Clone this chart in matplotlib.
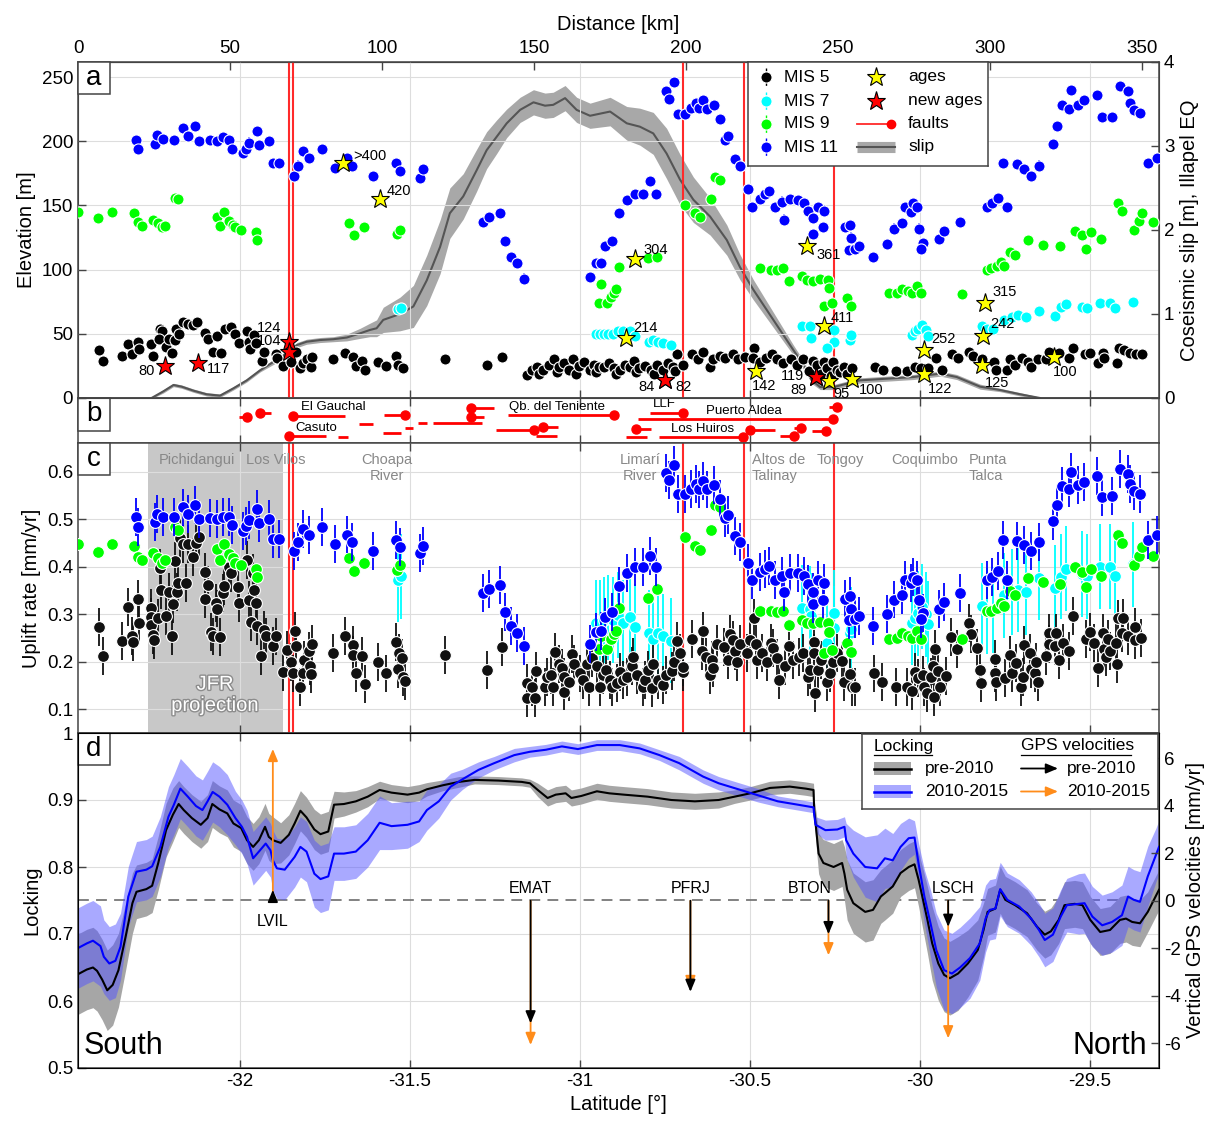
import numpy as np
import matplotlib
matplotlib.use("Agg")
import matplotlib.pyplot as plt
import matplotlib.patheffects as pe
from matplotlib.patches import Rectangle

plt.rcParams["font.family"] = ["Liberation Sans", "DejaVu Sans"]
plt.rcParams["axes.unicode_minus"] = False

# along-coast distance (km) <-> latitude
LAT_SOUTH, LAT_NORTH = -32.476, -29.297
KM_PER_DEG = 111.84


def km_to_lat(d):
    return LAT_SOUTH + np.asarray(d, dtype=float) / KM_PER_DEG


def lat_to_km(lat):
    return (np.asarray(lat, dtype=float) - LAT_SOUTH) * KM_PER_DEG


# ---------------------------------------------------------------- data
# marine terraces: (distance km, elevation m, uplift rate mm/yr)
mis11 = [
    (19.1, 201, 0.504), (19.8, 194, 0.484), (25.3, 198, 0.495), (26.1, 205, 0.512),
    (28.1, 202, 0.505), (31.6, 201, 0.504), (34.5, 210, 0.525), (36.1, 204, 0.511),
    (38.4, 212, 0.531), (39.8, 200, 0.500), (43.5, 201, 0.502), (45.6, 200, 0.500),
    (47.6, 203, 0.505), (49.6, 201, 0.504), (50.7, 194, 0.488), (54.2, 191, 0.476),
    (55.3, 194, 0.486), (56.3, 199, 0.498), (59.0, 208, 0.521), (59.4, 197, 0.493),
    (62.7, 200, 0.500), (64.0, 183, 0.458), (66.0, 183, 0.458), (71.0, 173, 0.434),
    (72.3, 181, 0.453), (74.1, 192, 0.479), (76.0, 187, 0.467), (80.2, 194, 0.484),
    (84.5, 179, 0.448), (88.6, 187, 0.468), (90.0, 181, 0.453), (97.1, 173, 0.434),
    (104.5, 183, 0.456), (105.9, 177, 0.442), (112.5, 171, 0.430), (113.4, 178, 0.444),
    (133.3, 137, 0.344), (135.3, 141, 0.353), (138.8, 144, 0.361), (140.6, 122, 0.305),
    (142.3, 110, 0.275), (144.3, 105, 0.261), (146.6, 93, 0.232), (168.4, 94, 0.237),
    (170.4, 105, 0.262), (172.1, 105, 0.265), (173.3, 118, 0.295), (175.6, 122, 0.305),
    (177.9, 144, 0.360), (180.5, 154, 0.386), (183.1, 159, 0.399), (185.9, 159, 0.399),
    (188.0, 169, 0.423), (190.1, 159, 0.399), (193.3, 239, 0.597), (194.5, 233, 0.583),
    (196.0, 246, 0.614), (197.3, 221, 0.554), (199.8, 221, 0.553), (201.5, 226, 0.564),
    (203.3, 230, 0.574), (204.4, 226, 0.563), (205.5, 232, 0.581), (207.0, 225, 0.563),
    (209.2, 228, 0.572), (211.2, 217, 0.542), (212.8, 201, 0.502), (213.9, 204, 0.509),
    (216.1, 186, 0.465), (217.7, 181, 0.453), (220.4, 163, 0.408), (221.7, 149, 0.372),
    (224.3, 155, 0.389), (225.9, 159, 0.396), (227.4, 161, 0.401), (229.1, 149, 0.372),
    (231.6, 153, 0.380), (232.2, 139, 0.346), (234.2, 155, 0.387), (236.9, 154, 0.386),
    (238.8, 152, 0.380), (240.1, 146, 0.363), (241.6, 140, 0.347), (241.9, 128, 0.321),
    (243.5, 149, 0.372), (245.4, 146, 0.365), (245.0, 133, 0.331), (252.3, 133, 0.333),
    (253.9, 135, 0.338), (254.2, 125, 0.312), (253.7, 115, 0.288), (255.6, 116, 0.290),
    (257.0, 118, 0.296), (261.6, 110, 0.276), (266.0, 120, 0.300), (268.5, 132, 0.331),
    (271.1, 136, 0.340), (272.1, 149, 0.373), (273.9, 145, 0.365), (274.6, 152, 0.379),
    (276.1, 149, 0.372), (276.5, 132, 0.331), (277.9, 121, 0.303), (277.4, 116, 0.289),
    (283.1, 124, 0.310), (284.8, 130, 0.325), (290.0, 137, 0.344), (299.1, 149, 0.372),
    (300.5, 152, 0.379), (302.7, 156, 0.392), (305.5, 149, 0.373), (304.1, 183, 0.456),
    (308.9, 182, 0.455), (311.3, 178, 0.446), (313.5, 173, 0.434), (316.2, 181, 0.453),
    (320.8, 198, 0.496), (321.9, 212, 0.530), (323.6, 228, 0.570), (325.8, 225, 0.565),
    (326.5, 240, 0.600), (329.0, 228, 0.572), (330.9, 232, 0.579), (335.1, 236, 0.591),
    (336.9, 219, 0.547), (340.0, 219, 0.549), (342.8, 243, 0.607), (345.2, 239, 0.595),
    (346.1, 230, 0.575), (347.4, 224, 0.560), (349.3, 222, 0.554), (351.8, 183, 0.457),
    (355.0, 187, 0.467),
]

mis9 = [
    (0.0, 145, 0.448), (6.5, 140, 0.431), (11.2, 145, 0.447), (18.5, 144, 0.444),
    (19.7, 137, 0.421), (21.2, 134, 0.414), (24.7, 139, 0.429), (26.2, 136, 0.418),
    (27.7, 133, 0.408), (28.5, 134, 0.415), (31.8, 156, 0.483), (32.8, 155, 0.477),
    (45.6, 141, 0.437), (46.7, 134, 0.414), (48.1, 145, 0.448), (49.7, 138, 0.426),
    (51.1, 135, 0.418), (51.5, 133, 0.408), (53.5, 131, 0.403), (58.4, 129, 0.396),
    (58.8, 123, 0.378), (89.0, 136, 0.418), (90.8, 127, 0.392), (94.1, 133, 0.408),
    (105.0, 128, 0.394), (105.9, 131, 0.403), (171.4, 74, 0.227), (172.1, 89, 0.253),
    (174.1, 74, 0.227), (175.2, 79, 0.247), (176.3, 82, 0.258), (177.0, 85, 0.265),
    (177.9, 102, 0.314), (187.6, 109, 0.335), (190.3, 110, 0.354), (199.5, 150, 0.463),
    (202.8, 144, 0.444), (204.6, 141, 0.435), (208.3, 155, 0.477), (209.6, 172, 0.530),
    (211.0, 170, 0.526), (224.3, 101, 0.307), (227.8, 100, 0.307), (229.8, 100, 0.304),
    (232.0, 101, 0.307), (234.0, 91, 0.277), (238.0, 95, 0.288), (239.9, 92, 0.282),
    (241.9, 91, 0.281), (244.1, 93, 0.284), (246.7, 92, 0.281), (247.0, 86, 0.263),
    (245.2, 72, 0.218), (248.1, 74, 0.225), (252.9, 78, 0.239), (254.2, 72, 0.221),
    (266.6, 82, 0.247), (269.3, 82, 0.249), (271.1, 85, 0.260), (273.1, 83, 0.253),
    (274.3, 82, 0.249), (276.1, 87, 0.265), (277.2, 82, 0.247), (290.7, 81, 0.247),
    (298.9, 100, 0.307), (300.3, 101, 0.307), (302.2, 103, 0.314), (303.6, 106, 0.324),
    (304.6, 103, 0.317), (306.6, 114, 0.349), (308.2, 111, 0.340), (312.4, 123, 0.377),
    (317.5, 119, 0.367), (323.0, 118, 0.363), (328.0, 130, 0.399), (330.2, 127, 0.390),
    (331.4, 116, 0.357), (333.1, 129, 0.396), (336.4, 124, 0.381), (342.2, 152, 0.467),
    (343.3, 146, 0.450), (347.4, 131, 0.404), (349.1, 138, 0.423), (349.8, 144, 0.442),
    (353.7, 137, 0.423),
]

mis7 = [
    (105.4, 69, 0.373), (106.3, 70, 0.380), (170.4, 50, 0.282), (171.7, 50, 0.282),
    (173.0, 50, 0.288), (174.4, 50, 0.293), (176.1, 50, 0.288), (177.7, 52, 0.298),
    (179.2, 52, 0.282), (181.6, 52, 0.295), (183.2, 48, 0.274), (187.9, 44, 0.260),
    (189.2, 45, 0.248), (190.9, 44, 0.260), (192.5, 43, 0.253), (194.9, 41, 0.244),
    (238.0, 56, 0.314), (240.6, 56, 0.312), (241.0, 47, 0.296), (248.5, 53, 0.303),
    (248.5, 44, 0.270), (246.3, 39, 0.239), (254.0, 45, 0.261), (254.2, 49, 0.268),
    (274.2, 49, 0.282), (275.3, 52, 0.291), (276.4, 54, 0.302), (277.5, 57, 0.316),
    (279.0, 53, 0.300), (279.7, 48, 0.280), (297.3, 56, 0.317), (298.9, 54, 0.307),
    (301.1, 54, 0.309), (304.6, 61, 0.340), (307.3, 63, 0.347), (309.3, 65, 0.352),
    (311.8, 63, 0.347), (316.0, 68, 0.377), (321.4, 64, 0.356), (323.2, 71, 0.379),
    (324.8, 73, 0.396), (330.2, 71, 0.385), (332.0, 70, 0.380), (336.0, 74, 0.400),
    (339.5, 74, 0.400), (341.1, 70, 0.380), (346.9, 75, 0.405),
]

# MIS 5 elevations (distance km, elevation m)
mis5_elev = [
    (7.0, 37), (8.1, 29), (14.6, 33), (16.3, 42), (17.9, 34), (19.8, 44), (20.2, 38),
    (24.0, 42), (24.6, 33), (27.0, 54), (27.7, 52), (26.8, 46), (28.8, 40), (29.8, 46),
    (30.8, 35), (31.9, 45), (32.1, 54), (33.3, 50), (34.4, 59), (36.3, 58), (37.7, 57),
    (39.0, 59), (41.7, 51), (42.8, 46), (44.5, 36), (45.8, 48), (47.0, 35), (48.4, 54),
    (50.2, 55), (51.6, 50), (52.9, 43), (55.7, 52), (56.4, 44), (56.6, 38), (58.0, 49),
    (58.5, 43), (60.4, 29), (61.2, 36), (65.1, 34), (65.6, 31), (67.5, 25), (69.9, 28),
    (71.7, 36), (73.0, 23), (74.1, 27), (75.4, 30), (76.6, 24), (76.9, 32), (84.0, 30),
    (87.8, 35), (90.3, 32), (91.4, 25), (93.3, 29), (94.4, 22), (98.8, 28), (101.2, 25),
    (104.6, 33), (105.4, 26), (107.0, 23), (120.7, 30), (134.6, 26), (139.6, 32),
    (147.6, 18), (149.2, 22), (150.9, 24), (151.5, 19), (153.1, 22), (155.0, 26),
    (156.6, 30), (157.5, 20), (158.3, 24), (160.0, 27), (161.5, 22), (162.9, 30),
    (163.8, 19), (164.9, 25), (166.5, 28), (168.4, 22), (169.7, 26), (170.5, 20),
    (171.5, 24), (173.0, 24), (174.8, 27), (176.3, 23), (177.0, 19), (178.3, 22),
    (179.9, 26), (181.6, 24), (182.9, 29), (183.5, 20), (184.6, 23), (186.5, 25),
    (188.4, 22), (189.5, 19), (190.3, 26), (192.5, 22), (194.2, 27), (195.6, 24),
    (196.5, 21), (197.1, 34), (199.1, 26), (202.0, 34), (204.0, 30), (205.7, 36),
    (207.7, 24), (209.0, 30), (211.0, 33), (212.8, 31), (215.5, 34), (217.2, 30),
    (219.4, 32), (222.3, 39), (222.1, 31), (224.3, 28), (226.3, 31), (228.2, 34),
    (229.8, 30), (232.0, 27), (234.4, 30), (236.4, 26), (238.6, 30), (240.5, 21),
    (241.6, 29), (243.0, 26), (244.5, 19), (245.2, 28), (246.3, 23), (247.8, 17),
    (248.2, 28), (249.6, 22), (250.7, 20), (251.8, 24), (253.0, 19), (254.5, 23),
    (262.2, 24), (264.7, 22), (269.0, 21), (272.8, 21), (275.3, 24), (277.2, 23),
    (279.7, 23), (282.1, 31), (284.1, 22), (287.4, 34), (289.3, 31), (292.9, 36),
    (294.5, 33), (297.3, 30), (301.4, 28), (302.0, 22), (305.5, 22), (306.6, 30),
    (308.2, 26), (310.4, 31), (312.4, 28), (313.4, 24), (315.6, 30), (318.4, 30),
    (319.2, 36), (322.5, 35), (325.8, 31), (327.2, 39), (331.3, 34), (332.9, 35),
    (335.6, 27), (337.0, 35), (337.5, 31), (341.7, 27), (342.5, 39), (343.9, 37),
    (346.1, 35), (348.0, 34), (349.9, 34),
]

# MIS 5 uplift rates (distance km, rate mm/yr)
mis5_rate = [
    (7.0, 0.274), (8.1, 0.212), (14.6, 0.243), (16.3, 0.316), (17.9, 0.255), (18.2, 0.241),
    (19.8, 0.333), (20.2, 0.281), (24.0, 0.314), (24.0, 0.295), (24.0, 0.277), (24.8, 0.256),
    (25.0, 0.246), (26.3, 0.293), (27.0, 0.397), (27.2, 0.351), (28.8, 0.296), (29.8, 0.347),
    (30.8, 0.254), (31.1, 0.321), (31.9, 0.413), (32.5, 0.347), (32.8, 0.366), (33.5, 0.460),
    (34.4, 0.448), (35.4, 0.366), (36.3, 0.448), (37.7, 0.421), (38.8, 0.450), (39.9, 0.463),
    (41.7, 0.390), (41.8, 0.333), (42.8, 0.361), (43.6, 0.263), (44.3, 0.253), (45.4, 0.323),
    (45.8, 0.312), (46.7, 0.251), (47.6, 0.344), (48.0, 0.359), (49.6, 0.400), (50.2, 0.386),
    (52.7, 0.358), (52.9, 0.323), (55.7, 0.414), (56.4, 0.330), (56.8, 0.284), (57.5, 0.386),
    (58.0, 0.351), (58.5, 0.323), (59.0, 0.275), (60.1, 0.212), (61.2, 0.267), (61.7, 0.253),
    (64.0, 0.233), (65.1, 0.253), (67.5, 0.178), (68.9, 0.225), (69.9, 0.200), (71.5, 0.265),
    (71.7, 0.232), (70.8, 0.175), (73.0, 0.146), (73.9, 0.175), (74.3, 0.204), (76.0, 0.223),
    (76.3, 0.190), (76.9, 0.237), (76.5, 0.173), (84.0, 0.219), (87.8, 0.254), (90.3, 0.235),
    (90.6, 0.214), (91.4, 0.177), (93.3, 0.212), (94.4, 0.152), (98.8, 0.200), (101.2, 0.175),
    (104.6, 0.241), (105.4, 0.184), (105.7, 0.218), (106.5, 0.207), (106.8, 0.168), (107.6, 0.160),
    (120.7, 0.214), (134.6, 0.182), (139.6, 0.230), (147.6, 0.154), (147.6, 0.123), (149.2, 0.147),
    (150.3, 0.123), (150.6, 0.181), (153.6, 0.147), (154.1, 0.168), (155.6, 0.171), (156.3, 0.146),
    (156.9, 0.220), (158.3, 0.195), (159.3, 0.186), (159.8, 0.168), (160.0, 0.137), (161.5, 0.156),
    (162.6, 0.216), (163.1, 0.196), (165.1, 0.175), (166.0, 0.161), (167.3, 0.195), (168.2, 0.147),
    (169.0, 0.207), (170.6, 0.190), (171.7, 0.146), (172.6, 0.172), (173.6, 0.182), (175.0, 0.161),
    (175.7, 0.146), (177.2, 0.154), (178.3, 0.178), (179.1, 0.161), (180.7, 0.167), (182.1, 0.190),
    (182.7, 0.210), (184.0, 0.172), (185.7, 0.147), (186.5, 0.161), (187.6, 0.182), (188.8, 0.144),
    (189.2, 0.196), (190.6, 0.161), (192.5, 0.151), (193.4, 0.172), (195.3, 0.181), (196.1, 0.200),
    (197.1, 0.244), (198.0, 0.218), (198.9, 0.179), (199.1, 0.188), (202.0, 0.248), (205.1, 0.223),
    (205.7, 0.265), (206.6, 0.209), (207.7, 0.171), (208.4, 0.203), (209.0, 0.186), (210.1, 0.237),
    (212.5, 0.230), (213.9, 0.203), (214.5, 0.258), (215.5, 0.246), (216.1, 0.223), (216.6, 0.200),
    (217.7, 0.237), (220.0, 0.218), (221.0, 0.246), (222.3, 0.293), (223.0, 0.237), (223.2, 0.203),
    (224.9, 0.218), (226.5, 0.200), (227.8, 0.239), (228.5, 0.228), (229.8, 0.207), (230.7, 0.161),
    (232.5, 0.190), (234.0, 0.232), (235.3, 0.203), (237.0, 0.210), (238.6, 0.218), (240.2, 0.167),
    (240.8, 0.182), (242.1, 0.242), (242.1, 0.218), (242.4, 0.133), (243.5, 0.182), (244.3, 0.203),
    (246.3, 0.158), (247.4, 0.175), (248.2, 0.200), (249.6, 0.218), (251.2, 0.202), (251.8, 0.156),
    (254.0, 0.174), (254.5, 0.147), (255.6, 0.146), (261.8, 0.175), (264.4, 0.158), (269.0, 0.146),
    (272.8, 0.146), (274.2, 0.139), (275.3, 0.179), (276.4, 0.165), (277.8, 0.172), (278.3, 0.147),
    (279.2, 0.133), (280.5, 0.167), (281.1, 0.190), (281.6, 0.126), (281.9, 0.226), (282.7, 0.181),
    (283.6, 0.147), (285.5, 0.170), (287.2, 0.251), (289.0, 0.226), (292.9, 0.282), (293.6, 0.258),
    (295.6, 0.228), (296.7, 0.182), (296.9, 0.154), (301.6, 0.205), (301.6, 0.175), (302.0, 0.156),
    (305.0, 0.165), (306.6, 0.214), (307.3, 0.177), (308.6, 0.198), (310.2, 0.146), (310.7, 0.168),
    (311.0, 0.235), (313.2, 0.219), (313.4, 0.184), (314.8, 0.175), (315.1, 0.200), (315.6, 0.156),
    (318.3, 0.212), (319.2, 0.261), (319.2, 0.237), (321.7, 0.260), (321.4, 0.232), (322.5, 0.203),
    (324.1, 0.239), (325.8, 0.223), (327.2, 0.296), (331.6, 0.247), (332.7, 0.263), (334.0, 0.239),
    (335.6, 0.187), (337.1, 0.260), (337.5, 0.226), (338.2, 0.209), (338.9, 0.247), (339.5, 0.223),
    (341.7, 0.195), (341.5, 0.239), (342.2, 0.291), (343.3, 0.260), (343.6, 0.293), (345.5, 0.253),
    (347.7, 0.274), (347.7, 0.246), (349.6, 0.249),
]

# dated terraces
ages_dist = [87.3, 99.3, 180.2, 183.2, 223.0, 239.7, 245.2, 247.1, 254.5, 278.3, 278.3,
             297.3, 297.6, 298.4, 321.0]
ages_elev = [183, 155, 47, 108, 21, 118, 56, 13, 15, 37, 19, 26, 48, 74, 32]
ages_text = [">400", "420", "214", "304", "142", "361", "411", "95", "100", "252", "122",
             "125", "242", "315", "100"]
new_ages_dist = [28.5, 39.5, 69.5, 69.5, 192.9, 192.9, 242.8, 242.8]
new_ages_elev = [25, 27, 44, 36, 14, 14, 16, 16]
new_ages_text = ["80", "117", "124", "104", "84", "82", "119", "89"]

# coseismic slip of the Illapel earthquake (m) along the coast
slip_dist = [24.2, 28.1, 31.4, 34.1, 38.0, 42.3, 46.7, 51.1, 55.5, 59.9, 64.3, 68.6, 72.0,
             75.2, 79.6, 84.0, 88.4, 92.8, 96.0, 98.2, 100.4, 105.9, 110.3, 114.7, 119.1,
             122.3, 126.7, 131.1, 134.4, 137.7, 141.0, 145.4, 149.8, 153.6, 156.3, 160.2,
             164.0, 168.4, 175.0, 180.5, 184.8, 189.2, 193.6, 198.0, 202.4, 207.9, 213.4,
             217.7, 222.1, 226.5, 230.9, 235.3, 238.5, 241.4, 244.1, 248.5, 257.2, 266.0,
             274.8, 283.6, 289.0, 296.7, 303.3, 309.9, 316.4]
slip = [0.0, 0.08, 0.155, 0.135, 0.087, 0.044, 0.028, 0.115, 0.21, 0.33, 0.43, 0.53, 0.63,
        0.67, 0.69, 0.70, 0.72, 0.77, 0.81, 0.83, 0.93, 1.0, 1.09, 1.40, 1.80,
        2.20, 2.40, 2.71, 2.95, 3.11, 3.27, 3.43, 3.52, 3.48, 3.49, 3.57,
        3.43, 3.36, 3.41, 3.27, 3.23, 3.15, 2.91, 2.60, 2.36, 2.16, 1.88,
        1.56, 1.29, 1.05, 0.81, 0.57, 0.40, 0.21, 0.13, 0.13, 0.21, 0.23,
        0.25, 0.29, 0.25, 0.135, 0.095, 0.044, 0.0]
slip_err = [0.01, 0.02, 0.02, 0.02, 0.02, 0.02, 0.02, 0.02, 0.02, 0.02, 0.03, 0.03, 0.03,
            0.03, 0.03, 0.03, 0.04, 0.06, 0.08, 0.10, 0.15, 0.20, 0.25, 0.30, 0.32,
            0.30, 0.27, 0.25, 0.22, 0.20, 0.17, 0.15, 0.15, 0.15, 0.15, 0.15,
            0.15, 0.15, 0.17, 0.20, 0.22, 0.25, 0.30, 0.30, 0.27, 0.22, 0.18,
            0.15, 0.12, 0.10, 0.08, 0.06, 0.05, 0.04, 0.03, 0.03, 0.03, 0.03,
            0.03, 0.03, 0.03, 0.03, 0.02, 0.02, 0.01]

# crustal faults (km)
fault_dist = [69.4, 70.7, 199.0, 219.1, 248.7]
seg_from = [52.96, 59.9, 70.7, 69.5, 85.5, 92.4, 100.5, 100.3, 107.6, 111.8, 116.8, 129.1,
            129.1, 137.5, 152.8, 150.7, 141.4, 188.0, 184.1, 247.0, 180.2, 183.4, 191.1,
            221.0, 230.9, 235.5, 241.3]
seg_to = [55.6, 63.5, 87.8, 81.6, 88.8, 96.9, 107.6, 106.3, 110.2, 114.8, 132.9, 136.8,
          133.6, 150.0, 157.9, 157.7, 176.3, 199.0, 248.4, 249.5, 187.1, 188.4, 218.8,
          229.2, 235.5, 237.7, 246.1]
seg_row = [0.57, 0.67, 0.60, 0.16, 0.13, 0.42, 0.63, 0.23, 0.34, 0.45, 0.44, 0.77, 0.57,
           0.28, 0.35, 0.16, 0.62, 0.66, 0.53, 0.81, 0.14, 0.30, 0.14, 0.29, 0.15, 0.34, 0.27]
seg_tip = ["R", "L", "L", "L", "", "", "R", "", "", "", "", "L", "L", "R", "L", "", "R",
           "R", "R", "R", "", "L", "R", "L", "R", "R", "R"]
fault_names = ["El Gauchal", "Casuto", "Qb. del Teniente", "LLF", "Puerto Aldea", "Los Huiros"]
fault_name_dist = [83.9, 78.3, 157.7, 193.0, 219.0, 205.3]
fault_name_row = [0.80, 0.33, 0.80, 0.86, 0.70, 0.30]

# interseismic locking, pre-2010 model
lock_pre_lat = [-32.476, -32.45, -32.432, -32.42, -32.405, -32.39, -32.374, -32.357, -32.336, -32.316,
                -32.304, -32.275, -32.258, -32.24, -32.217, -32.197, -32.18, -32.165, -32.141, -32.115,
                -32.095, -32.081, -32.06, -32.037, -32.019, -31.996, -31.979, -31.961, -31.944, -31.926,
                -31.915, -31.903, -31.88, -31.856, -31.839, -31.822, -31.804, -31.781, -31.763, -31.74,
                -31.723, -31.694, -31.659, -31.624, -31.589, -31.554, -31.507, -31.473, -31.45, -31.403,
                -31.356, -31.31, -31.24, -31.171, -31.147, -31.124, -31.095, -31.071, -31.042, -31.025,
                -30.996, -30.95, -30.914, -30.871, -30.801, -30.731, -30.662, -30.592, -30.545, -30.499,
                -30.441, -30.383, -30.336, -30.313, -30.311, -30.305, -30.298, -30.284, -30.254, -30.229,
                -30.222, -30.214, -30.196, -30.161, -30.138, -30.115, -30.103, -30.08, -30.057, -30.033,
                -30.016, -30.004, -29.993, -29.978, -29.964, -29.946, -29.929, -29.912, -29.888, -29.859,
                -29.83, -29.813, -29.801, -29.778, -29.764, -29.749, -29.72, -29.685, -29.656, -29.633,
                -29.615, -29.592, -29.575, -29.545, -29.522, -29.499, -29.47, -29.441, -29.412, -29.394,
                -29.376, -29.353, -29.33, -29.297]
lock_pre = [0.640, 0.647, 0.650, 0.645, 0.632, 0.616, 0.624, 0.646, 0.696, 0.746,
            0.763, 0.767, 0.772, 0.806, 0.855, 0.878, 0.894, 0.885, 0.873, 0.863,
            0.873, 0.894, 0.886, 0.880, 0.865, 0.858, 0.840, 0.830, 0.840, 0.860,
            0.845, 0.840, 0.836, 0.848, 0.865, 0.884, 0.874, 0.856, 0.849, 0.853,
            0.893, 0.894, 0.898, 0.905, 0.915, 0.911, 0.908, 0.911, 0.916, 0.922,
            0.927, 0.930, 0.929, 0.927, 0.925, 0.915, 0.903, 0.908, 0.910, 0.903,
            0.906, 0.913, 0.910, 0.908, 0.905, 0.900, 0.898, 0.900, 0.905, 0.910,
            0.918, 0.920, 0.917, 0.915, 0.885, 0.855, 0.820, 0.806, 0.800, 0.806,
            0.790, 0.766, 0.746, 0.733, 0.736, 0.756, 0.761, 0.771, 0.791, 0.800,
            0.804, 0.781, 0.756, 0.721, 0.686, 0.656, 0.639, 0.634, 0.641, 0.656,
            0.676, 0.706, 0.733, 0.738, 0.766, 0.751, 0.743, 0.731, 0.711, 0.699,
            0.704, 0.721, 0.743, 0.745, 0.743, 0.721, 0.703, 0.706, 0.721, 0.723,
            0.718, 0.716, 0.733, 0.766]
lock_pre_err = [0.06, 0.06, 0.06, 0.06, 0.06, 0.06, 0.06, 0.055, 0.05, 0.045,
                0.04, 0.04, 0.04, 0.04, 0.04, 0.04, 0.035, 0.035, 0.035, 0.035,
                0.035, 0.035, 0.035, 0.035, 0.035, 0.035, 0.035, 0.035, 0.035, 0.035,
                0.035, 0.035, 0.03, 0.03, 0.03, 0.03, 0.03, 0.03, 0.03, 0.03,
                0.02, 0.018, 0.016, 0.015, 0.013, 0.012, 0.012, 0.012, 0.01, 0.008,
                0.008, 0.006, 0.006, 0.006, 0.006, 0.01, 0.012, 0.012, 0.012, 0.012,
                0.012, 0.012, 0.012, 0.012, 0.012, 0.012, 0.012, 0.012, 0.01, 0.01,
                0.01, 0.01, 0.01, 0.01, 0.015, 0.025, 0.03, 0.035, 0.035, 0.035,
                0.04, 0.045, 0.045, 0.045, 0.045, 0.04, 0.04, 0.04, 0.035, 0.035,
                0.035, 0.04, 0.045, 0.05, 0.055, 0.055, 0.055, 0.055, 0.055, 0.05,
                0.045, 0.04, 0.035, 0.035, 0.035, 0.035, 0.035, 0.035, 0.035, 0.035,
                0.035, 0.035, 0.035, 0.035, 0.035, 0.035, 0.035, 0.035, 0.035, 0.035,
                0.035, 0.035, 0.03, 0.03]

# interseismic locking, 2010-2015 model
lock_post_lat = [-32.476, -32.45, -32.432, -32.41, -32.40, -32.384, -32.366, -32.351, -32.328, -32.304,
                 -32.275, -32.258, -32.234, -32.21, -32.194, -32.175, -32.153, -32.129, -32.11, -32.095,
                 -32.08, -32.06, -32.037, -32.013, -31.994, -31.979, -31.961, -31.944, -31.924, -31.91,
                 -31.903, -31.891, -31.868, -31.839, -31.822, -31.804, -31.781, -31.763, -31.74, -31.723,
                 -31.694, -31.659, -31.624, -31.589, -31.554, -31.507, -31.473, -31.45, -31.415, -31.38,
                 -31.345, -31.298, -31.252, -31.193, -31.147, -31.1, -31.053, -31.006, -30.95, -30.883,
                 -30.824, -30.766, -30.708, -30.638, -30.592, -30.534, -30.476, -30.418, -30.359, -30.313,
                 -30.311, -30.307, -30.278, -30.243, -30.222, -30.217, -30.196, -30.161, -30.126, -30.103,
                 -30.08, -30.057, -30.033, -30.016, -30.004, -29.987, -29.969, -29.952, -29.929, -29.906,
                 -29.882, -29.853, -29.824, -29.807, -29.795, -29.778, -29.764, -29.743, -29.708, -29.673,
                 -29.65, -29.633, -29.609, -29.586, -29.568, -29.533, -29.516, -29.493, -29.464, -29.435,
                 -29.406, -29.388, -29.371, -29.353, -29.33, -29.306, -29.297]
lock_post = [0.679, 0.686, 0.690, 0.682, 0.666, 0.656, 0.660, 0.681, 0.756, 0.793,
             0.796, 0.801, 0.830, 0.875, 0.893, 0.917, 0.905, 0.891, 0.885, 0.898,
             0.912, 0.905, 0.893, 0.873, 0.860, 0.845, 0.813, 0.823, 0.835, 0.825,
             0.810, 0.798, 0.796, 0.815, 0.830, 0.823, 0.790, 0.782, 0.786, 0.820,
             0.820, 0.823, 0.840, 0.866, 0.861, 0.863, 0.868, 0.885, 0.898, 0.920,
             0.931, 0.945, 0.955, 0.967, 0.972, 0.975, 0.980, 0.976, 0.982, 0.982,
             0.977, 0.967, 0.955, 0.935, 0.925, 0.916, 0.907, 0.898, 0.893, 0.889,
             0.878, 0.863, 0.855, 0.856, 0.860, 0.840, 0.820, 0.800, 0.798, 0.813,
             0.810, 0.830, 0.843, 0.844, 0.805, 0.756, 0.716, 0.676, 0.646, 0.641,
             0.650, 0.664, 0.686, 0.723, 0.736, 0.738, 0.767, 0.751, 0.741, 0.723,
             0.706, 0.691, 0.699, 0.726, 0.743, 0.745, 0.746, 0.726, 0.713, 0.718,
             0.728, 0.756, 0.751, 0.748, 0.786, 0.818, 0.830]
lock_post_err = [0.06, 0.06, 0.06, 0.06, 0.055, 0.055, 0.055, 0.05, 0.045, 0.045,
                 0.045, 0.045, 0.045, 0.045, 0.045, 0.045, 0.045, 0.045, 0.045, 0.045,
                 0.045, 0.045, 0.045, 0.04, 0.04, 0.04, 0.04, 0.04, 0.04, 0.04,
                 0.045, 0.045, 0.045, 0.045, 0.045, 0.045, 0.05, 0.05, 0.05, 0.04,
                 0.04, 0.04, 0.04, 0.04, 0.035, 0.035, 0.03, 0.03, 0.025, 0.02,
                 0.015, 0.012, 0.01, 0.01, 0.008, 0.008, 0.008, 0.008, 0.008, 0.008,
                 0.008, 0.008, 0.01, 0.01, 0.01, 0.01, 0.01, 0.008, 0.008, 0.008,
                 0.01, 0.012, 0.015, 0.015, 0.015, 0.025, 0.035, 0.045, 0.05, 0.045,
                 0.04, 0.035, 0.03, 0.025, 0.03, 0.04, 0.05, 0.055, 0.06, 0.06,
                 0.06, 0.06, 0.055, 0.05, 0.045, 0.045, 0.04, 0.04, 0.04, 0.04,
                 0.04, 0.04, 0.04, 0.04, 0.04, 0.045, 0.045, 0.045, 0.045, 0.045,
                 0.045, 0.045, 0.045, 0.045, 0.045, 0.04, 0.04]

# vertical GPS velocities (mm/yr)
gps_names = ["LVIL", "EMAT", "PFRJ", "BTON", "LSCH"]
gps_lat = [-31.903, -31.145, -30.675, -30.269, -29.917]
gps_v_pre = [0.46, -5.17, -3.84, -1.41, -1.10]
gps_v_post = [6.4, -6.08, -3.68, -2.30, -5.80]
gps_label_lat = [-31.903, -31.145, -30.675, -30.323, -29.902]

# place names along the coast
place_names = ["Pichidangui", "Los Vilos", "Choapa\nRiver", "Limarí\nRiver",
               "Altos de\nTalinay", "Tongoy", "Coquimbo", "Punta\nTalca"]
place_lat = [-32.127, -31.894, -31.567, -30.823, -30.494, -30.235, -29.985, -29.857]
place_align = ["center", "center", "center", "center", "left", "center", "center", "left"]
jfr_km = (23.0, 67.4)

# ---------------------------------------------------------------- style
C5, C7, C9, C11 = "black", "#00ffff", "#00ff00", "#0000ff"
FAULT = "#ff2a2a"
SLIP_BAND, SLIP_LINE = "#a8a8a8", "#555555"
GREY_BAND = "#a6a6a6"
BLUE_BAND = (0.33, 0.33, 1.0, 0.5)
ORANGE = "#ff8c1a"
EDGE = "#444444"
LAT_TICKS = [-32, -31.5, -31, -30.5, -30, -29.5]
LAT_LABELS = ["-32", "-31.5", "-31", "-30.5", "-30", "-29.5"]
FIG_W, FIG_H = 1222, 1122


def px_box(left, top, right, bottom):
    return [left / FIG_W, 1 - bottom / FIG_H, (right - left) / FIG_W, (bottom - top) / FIG_H]


def style_panel(ax):
    ax.set_xlim(LAT_SOUTH, LAT_NORTH)
    ax.set_xticks(LAT_TICKS)
    ax.set_xticklabels([])
    ax.grid(True, color="#dddddd", lw=0.8)
    ax.set_axisbelow(True)
    for s in ax.spines.values():
        s.set_color(EDGE)
        s.set_linewidth(1.1)
    ax.tick_params(which="both", direction="in", length=6, width=1, color=EDGE,
                   labelsize=13.5, top=True, bottom=True)


def panel_tag(ax, letter, w_px=32, h_px=32):
    bb = ax.get_position()
    w = w_px / (bb.width * FIG_W)
    h = h_px / (bb.height * FIG_H)
    ax.add_patch(Rectangle((0, 1 - h), w, h, transform=ax.transAxes, fc="white", ec=EDGE,
                           lw=1.1, zorder=8, clip_on=False))
    ax.text(w / 2, 1 - h / 2, letter, transform=ax.transAxes, ha="center", va="center",
            fontsize=20, zorder=9)


def terraces(ax, x, y, err, color, ms, z, elw=1.2):
    ax.errorbar(x, y, yerr=err, fmt="none", ecolor=color, elinewidth=elw, capsize=0, zorder=z)
    ax.plot(x, y, "o", ms=ms, mfc=color, mec="white", mew=0.8, ls="none", zorder=z + 0.1)


def cols(rows, i):
    return np.array([r[i] for r in rows], dtype=float)


fig = plt.figure(figsize=(FIG_W / 100, FIG_H / 100), dpi=100)
ax_a = fig.add_axes(px_box(78, 62, 1159, 398))
ax_b = fig.add_axes(px_box(78, 398, 1159, 443))
ax_c = fig.add_axes(px_box(78, 443, 1159, 733))
ax_d = fig.add_axes(px_box(78, 733, 1159, 1068))

# ---------------------------------------------------------------- panel a
ax_s = ax_a.twinx()
ax_a.set_zorder(ax_s.get_zorder() + 1)
ax_a.patch.set_visible(False)
style_panel(ax_a)
ax_a.tick_params(top=False)
ax_a.set_ylim(0, 261.7)
ax_a.set_yticks(range(0, 251, 50))
ax_a.set_ylabel("Elevation [m]", fontsize=14.5)

slat = km_to_lat(slip_dist)
s_arr, s_err = np.array(slip), np.array(slip_err)
ax_s.fill_between(slat, s_arr - s_err, s_arr + s_err, color=SLIP_BAND, lw=0)
ax_s.plot(slat, s_arr, color=SLIP_LINE, lw=1.5)
ax_s.set_ylim(0, 4)
ax_s.set_yticks([0, 1, 2, 3, 4])
ax_s.tick_params(direction="in", length=6, width=1, color=EDGE, labelsize=13.5)
ax_s.set_ylabel("Coseismic slip [m], Illapel EQ", fontsize=14.5)
for s in ax_s.spines.values():
    s.set_color(EDGE)

for d in fault_dist:
    ax_a.axvline(km_to_lat(d), color=FAULT, lw=1.5, zorder=1.5)

terraces(ax_a, km_to_lat(cols(mis5_elev, 0)), cols(mis5_elev, 1), 3, C5, 8, 2)
terraces(ax_a, km_to_lat(cols(mis7, 0)), cols(mis7, 1), 2, C7, 8, 2.3)
terraces(ax_a, km_to_lat(cols(mis9, 0)), cols(mis9, 1), 2, C9, 8, 2.6)
terraces(ax_a, km_to_lat(cols(mis11, 0)), cols(mis11, 1), 4, C11, 8, 2.9)

ax_a.plot(km_to_lat(ages_dist), ages_elev, "*", ms=14, mfc="#ffff00", mec="k", mew=0.8,
          ls="none", zorder=5)
ax_a.plot(km_to_lat(new_ages_dist), new_ages_elev, "*", ms=14, mfc="#ff0000", mec="k",
          mew=0.8, ls="none", zorder=5)
ages_offset = [(7, 5, "left"), (5, 6, "left"), (5, 7, "left"), (6, 7, "left"),
               (-3, -11, "left"), (7, -6, "left"), (5, 6, "left"), (3, -9, "left"),
               (5, -8, "left"), (5, 8, "left"), (3, -11, "left"), (2, -13, "left"),
               (5, 9, "left"), (5, 8, "left"), (-1, -11, "left")]
new_offset = [(-7, -4, "right"), (6, -4, "left"), (-6, 10, "right"), (-6, 8, "right"),
              (-7, -5, "right"), (8, -5, "left"), (-9, 1, "right"), (-7, -9, "right")]
for d, e, t, (dx, dy, ha) in zip(ages_dist + new_ages_dist, ages_elev + new_ages_elev,
                                 ages_text + new_ages_text, ages_offset + new_offset):
    ax_a.annotate(t, (km_to_lat(d), e), xytext=(dx, dy), textcoords="offset points",
                  ha=ha, va="center", fontsize=10.5, zorder=6)

top = ax_a.secondary_xaxis("top", functions=(lat_to_km, km_to_lat))
top.set_xticks(range(0, 351, 50))
top.tick_params(direction="in", length=6, width=1, color=EDGE, labelsize=13.5)
top.set_xlabel("Distance [km]", fontsize=14.5, labelpad=7)
top.spines["top"].set_color(EDGE)
panel_tag(ax_a, "a")

# legend for panel a, laid out in its own pixel frame
lg = fig.add_axes(px_box(748, 62, 988, 166))
lg.set_zorder(10)
lg.set_xlim(748, 988)
lg.set_ylim(166, 62)
lg.set_xticks([])
lg.set_yticks([])
for s in lg.spines.values():
    s.set_color(EDGE)
    s.set_linewidth(1.1)
rows_y = [77, 101, 124, 147]
for y, (name, col) in zip(rows_y, [("MIS 5", C5), ("MIS 7", C7), ("MIS 9", C9), ("MIS 11", C11)]):
    lg.plot([766, 766], [y - 9, y + 9], color=col, lw=1, ls=(0, (2, 1.5)))
    lg.plot(766, y, "o", ms=8, mfc=col, mec="white", mew=0.8)
    lg.text(784, y, name, va="center", fontsize=12.5)
lg.plot(876, 77, "*", ms=14, mfc="#ffff00", mec="k", mew=0.8)
lg.plot(876, 101, "*", ms=14, mfc="#ff0000", mec="k", mew=0.8)
lg.plot([857, 891], [124, 124], color=FAULT, lw=1.3)
lg.plot(891, 124, "o", ms=6, color="#ff0000")
lg.plot([857, 895], [147, 147], color=SLIP_BAND, lw=8, solid_capstyle="butt")
lg.plot([857, 895], [147, 147], color=SLIP_LINE, lw=1.5)
for y, t in zip(rows_y, ["ages", "new ages", "faults", "slip"]):
    lg.text(908, y, t, va="center", fontsize=12.5)

# ---------------------------------------------------------------- panel b
style_panel(ax_b)
ax_b.grid(True, axis="x", color="#dddddd", lw=0.8)
ax_b.grid(False, axis="y")
ax_b.set_ylim(0, 1)
ax_b.set_yticks([])
for f, t, r, tip in zip(seg_from, seg_to, seg_row, seg_tip):
    ax_b.plot(km_to_lat([f, t]), [r, r], color="#ff0000", lw=2, solid_capstyle="butt", zorder=3)
    if tip:
        ax_b.plot(km_to_lat(f if tip == "L" else t), r, "o", ms=6.5, color="#ff0000", zorder=4)
for name, d, r in zip(fault_names, fault_name_dist, fault_name_row):
    ax_b.text(km_to_lat(d), r, name, ha="center", va="center", fontsize=9.5, zorder=5)
panel_tag(ax_b, "b", 32, 33)

# ---------------------------------------------------------------- panel c
style_panel(ax_c)
ax_c.tick_params(right=True)
ax_c.set_ylim(0.0495, 0.661)
ax_c.set_yticks([0.1, 0.2, 0.3, 0.4, 0.5, 0.6])
ax_c.set_ylabel("Uplift rate [mm/yr]", fontsize=14.5)
ax_c.axvspan(km_to_lat(jfr_km[0]), km_to_lat(jfr_km[1]), color="#c8c8c8", lw=0, zorder=0.3)
for d in fault_dist:
    ax_c.axvline(km_to_lat(d), color=FAULT, lw=1.5, zorder=1.5)

terraces(ax_c, km_to_lat(cols(mis7, 0)), cols(mis7, 2), 0.09, C7, 8.5, 2, elw=1.3)
terraces(ax_c, km_to_lat(cols(mis5_rate, 0)), cols(mis5_rate, 1), 0.04, "#111111", 8.5, 2.3,
         elw=1.3)
terraces(ax_c, km_to_lat(cols(mis9, 0)), cols(mis9, 2), 0.012, C9, 8.5, 2.6)
terraces(ax_c, km_to_lat(cols(mis11, 0)), cols(mis11, 2), 0.04, C11, 8.5, 2.9, elw=1.3)

for name, lat, ha in zip(place_names, place_lat, place_align):
    ax_c.text(lat, 0.639, name, ha=ha, va="top", fontsize=10.5, color="#888888",
              linespacing=1.15, zorder=6)
ax_c.text(-32.073, 0.13, "JFR\nprojection", ha="center", va="center", fontsize=14.5,
          color="white", linespacing=1.15, zorder=6,
          path_effects=[pe.withStroke(linewidth=2, foreground="#8c8c8c")])
panel_tag(ax_c, "c")

# ---------------------------------------------------------------- panel d
ax_g = ax_d.twinx()
style_panel(ax_d)
ax_d.set_xticklabels(LAT_LABELS)
ax_d.set_xlabel("Latitude [°]", fontsize=14.5)
ax_d.set_ylim(0.5, 1.0)
ax_d.set_yticks([0.5, 0.6, 0.7, 0.8, 0.9, 1.0])
ax_d.set_yticklabels(["0.5", "0.6", "0.7", "0.8", "0.9", "1"])
ax_d.set_ylabel("Locking", fontsize=14.5)
ax_d.axhline(0.75, color="#777777", lw=1.3, ls=(0, (6, 4)), zorder=1)

pre_lat, pre, pre_e = map(np.array, (lock_pre_lat, lock_pre, lock_pre_err))
post_lat, post, post_e = map(np.array, (lock_post_lat, lock_post, lock_post_err))
ax_d.fill_between(pre_lat, pre - pre_e, pre + pre_e, color=GREY_BAND, lw=0, zorder=2)
ax_d.fill_between(post_lat, post - post_e, post + post_e, color=BLUE_BAND, lw=0, zorder=2.2)
ax_d.plot(pre_lat, pre, color="black", lw=1.5, zorder=3)
ax_d.plot(post_lat, post, color="#0000ff", lw=1.5, zorder=3.1)

ax_g.set_ylim(-7.05, 7.07)
ax_g.set_yticks([-6, -4, -2, 0, 2, 4, 6])
ax_g.tick_params(direction="in", length=6, width=1, color=EDGE, labelsize=13.5)
ax_g.set_ylabel("Vertical GPS velocities [mm/yr]", fontsize=14.5)
arrow_kw = dict(arrowstyle="-|>,head_length=0.6,head_width=0.25", lw=1.3,
                shrinkA=0, shrinkB=0, mutation_scale=12)
for name, lat, lab_lat, vpre, vpost in zip(gps_names, gps_lat, gps_label_lat,
                                           gps_v_pre, gps_v_post):
    ax_g.annotate("", xy=(lat, vpost), xytext=(lat, 0),
                  arrowprops=dict(color=ORANGE, **arrow_kw), zorder=5)
    ax_g.annotate("", xy=(lat, vpre), xytext=(lat, 0),
                  arrowprops=dict(color="black", **arrow_kw), zorder=6)
    if vpost > 0:
        ax_g.text(lab_lat, -0.55, name, ha="center", va="top", fontsize=11.5)
    else:
        ax_g.text(lab_lat, 0.2, name, ha="center", va="bottom", fontsize=11.5)

ax_d.text(0.005, 0.02, "South", transform=ax_d.transAxes, ha="left", va="bottom", fontsize=22)
ax_d.text(0.989, 0.02, "North", transform=ax_d.transAxes, ha="right", va="bottom", fontsize=22)
panel_tag(ax_d, "d")

# legend for panel d
ld = fig.add_axes(px_box(862, 734, 1158, 809))
ld.set_zorder(10)
ld.set_xlim(862, 1158)
ld.set_ylim(809, 734)
ld.set_xticks([])
ld.set_yticks([])
for s in ld.spines.values():
    s.set_color(EDGE)
    s.set_linewidth(1.1)
ld.text(874, 746, "Locking", va="center", fontsize=12.5)
ld.plot([874, 932], [755, 755], color="black", lw=0.9)
ld.text(1021, 746, "GPS velocities", va="center", fontsize=12.5)
ld.plot([1021, 1131], [755, 755], color="black", lw=0.9)
ld.fill_between([874, 911], 762, 775, color=GREY_BAND, lw=0)
ld.plot([874, 911], [768.5, 768.5], color="black", lw=1.8)
ld.fill_between([874, 911], 785, 798, color=BLUE_BAND, lw=0)
ld.plot([874, 911], [791.5, 791.5], color="#0000ff", lw=1.8)
ld.text(925, 768.5, "pre-2010", va="center", fontsize=12.5)
ld.text(925, 791.5, "2010-2015", va="center", fontsize=12.5)
ld.annotate("", xy=(1058, 768.5), xytext=(1021, 768.5), arrowprops=dict(color="black", **arrow_kw))
ld.annotate("", xy=(1058, 791.5), xytext=(1021, 791.5), arrowprops=dict(color=ORANGE, **arrow_kw))
ld.text(1067, 768.5, "pre-2010", va="center", fontsize=12.5)
ld.text(1067, 791.5, "2010-2015", va="center", fontsize=12.5)

fig.savefig("out.png", dpi=100)
